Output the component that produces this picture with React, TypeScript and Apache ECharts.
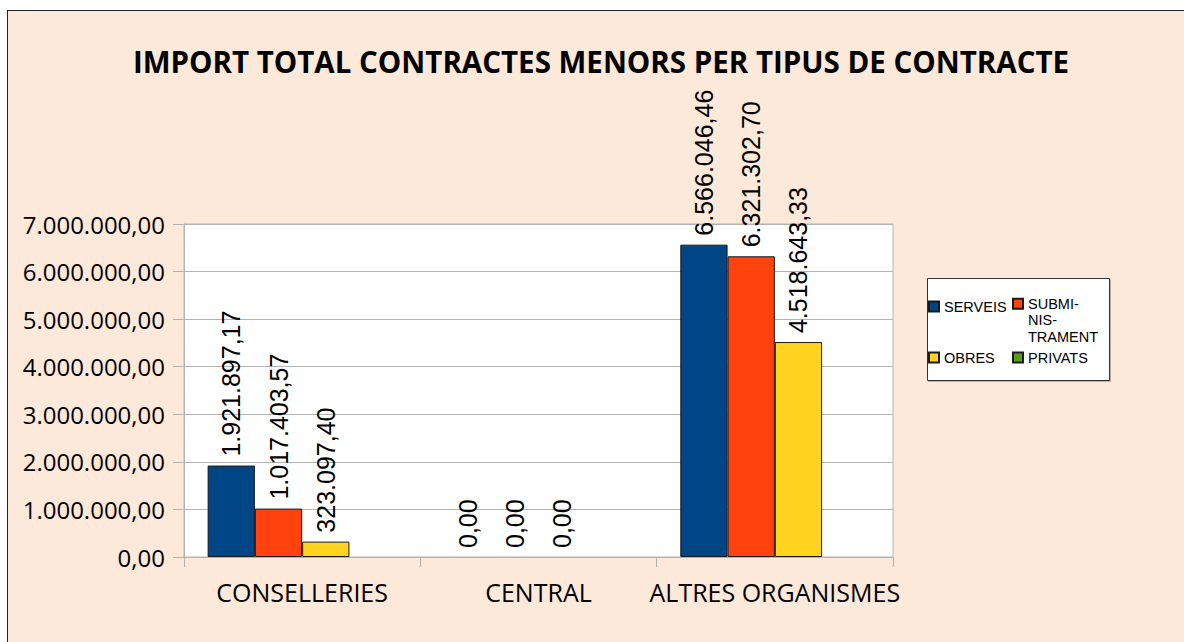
import React, { useEffect, useRef } from "react";
import * as echarts from "echarts";

const categories = ["CONSELLERIES", "CENTRAL", "ALTRES ORGANISMES"];
const seriesNames = ["SERVEIS", "SUBMINISTRAMENT", "OBRES", "PRIVATS"];
const serveis = [1921897.17, 0, 6566046.46];
const subministrament = [1017403.57, 0, 6321302.7];
const obres = [323097.4, 0, 4518643.33];
const privats: (number | null)[] = [null, null, null];
const seriesColors = ["#004586", "#ff420e", "#ffd320", "#579d1c"];
const yMin = 0;
const yMax = 7000000;
const yStep = 1000000;
const titleText = "IMPORT TOTAL CONTRACTES MENORS PER TIPUS DE CONTRACTE";

function fmt(v: number): string {
  const [i, d] = v.toFixed(2).split(".");
  return i.replace(/\B(?=(\d{3})+(?!\d))/g, ".") + "," + d;
}

export default function App() {
  const ref = useRef<HTMLDivElement>(null);
  useEffect(() => {
    if (!ref.current) return;
    const chart = echarts.init(ref.current, undefined, { renderer: "svg" });
    const values = [serveis, subministrament, obres, privats];
    const legendText = { fontFamily: "Liberation Sans", fontSize: 14.5, color: "#000" };
    const legendCommon = {
      orient: "horizontal" as const,
      itemWidth: 10,
      itemHeight: 10,
      padding: 0,
      icon: "rect",
      selectedMode: false,
      textStyle: { ...legendText },
    };
    chart.setOption({
      animation: false,
      title: {
        text: titleText,
        left: 596,
        top: 41,
        textAlign: "center",
        textStyle: { fontFamily: "Open Sans", fontWeight: "bold", fontSize: 29.5, color: "#000" },
      },
      grid: {
        left: 184,
        top: 224,
        width: 709,
        height: 333,
        show: true,
        backgroundColor: "#ffffff",
        borderColor: "#b3b3b3",
        borderWidth: 1,
        containLabel: false,
      },
      legend: [
        { ...legendCommon, data: ["SERVEIS"], left: 928, top: 299 },
        {
          ...legendCommon,
          data: ["SUBMINISTRAMENT"],
          left: 1012,
          top: 262.5,
          formatter: () => "\n\nSUBMI-\nNIS-\nTRAMENT",
          textStyle: { ...legendText, lineHeight: 16.5 },
        },
        { ...legendCommon, data: ["OBRES"], left: 928, top: 350 },
        { ...legendCommon, data: ["PRIVATS"], left: 1012, top: 350 },
      ],
      graphic: [
        {
          type: "rect",
          z: 3,
          shape: { x: 927.5, y: 278.5, width: 182, height: 102 },
          style: {
            fill: "#ffffff",
            stroke: "#333333",
            lineWidth: 1,
            shadowColor: "rgba(0,0,0,0.25)",
            shadowOffsetX: 1,
            shadowOffsetY: 1,
            shadowBlur: 1,
          },
        },
      ],
      xAxis: {
        type: "category",
        data: categories,
        axisLine: { lineStyle: { color: "#b3b3b3", width: 1 } },
        axisTick: { show: true, length: 10, interval: 0, lineStyle: { color: "#b3b3b3" } },
        axisLabel: { fontFamily: "Open Sans", fontSize: 25, color: "#000", margin: 22, interval: 0 },
        splitLine: { show: false },
      },
      yAxis: {
        type: "value",
        min: yMin,
        max: yMax,
        interval: yStep,
        axisLine: { show: true, lineStyle: { color: "#b3b3b3", width: 1 } },
        axisTick: { show: true, length: 11, lineStyle: { color: "#b3b3b3" } },
        axisLabel: {
          fontFamily: "Open Sans",
          fontSize: 24,
          color: "#000",
          margin: 19,
          formatter: (v: number) => fmt(v),
        },
        splitLine: { show: true, lineStyle: { color: "#b3b3b3", width: 1 } },
      },
      series: seriesNames.map((name, k) => ({
        type: "bar",
        name,
        data: values[k].map((v) =>
          v === 0 ? { value: v, itemStyle: { borderWidth: 0 } } : v
        ),
        barGap: "0%",
        barCategoryGap: "20%",
        itemStyle: { color: seriesColors[k], borderColor: "#1a1a1a", borderWidth: 1 },
        label: {
          show: true,
          position: "top",
          rotate: 90,
          align: "left",
          verticalAlign: "middle",
          distance: 9,
          fontFamily: "Liberation Sans",
          fontSize: 25,
          color: "#000",
          formatter: (p: any) => (p.value == null ? "" : fmt(p.value)),
        },
      })),
    });
    return () => chart.dispose();
  }, []);
  return (
    <div
      style={{
        position: "fixed",
        left: 0,
        top: 0,
        width: 1184,
        height: 642,
        overflow: "hidden",
        background: "#ffffff",
      }}
    >
      <div
        style={{
          position: "absolute",
          left: 7,
          top: 10,
          width: 1300,
          height: 800,
          background: "#fde9d9",
          border: "1px solid #222222",
        }}
      />
      <div ref={ref} style={{ position: "absolute", left: 0, top: 0, width: 1184, height: 642 }} />
    </div>
  );
}
